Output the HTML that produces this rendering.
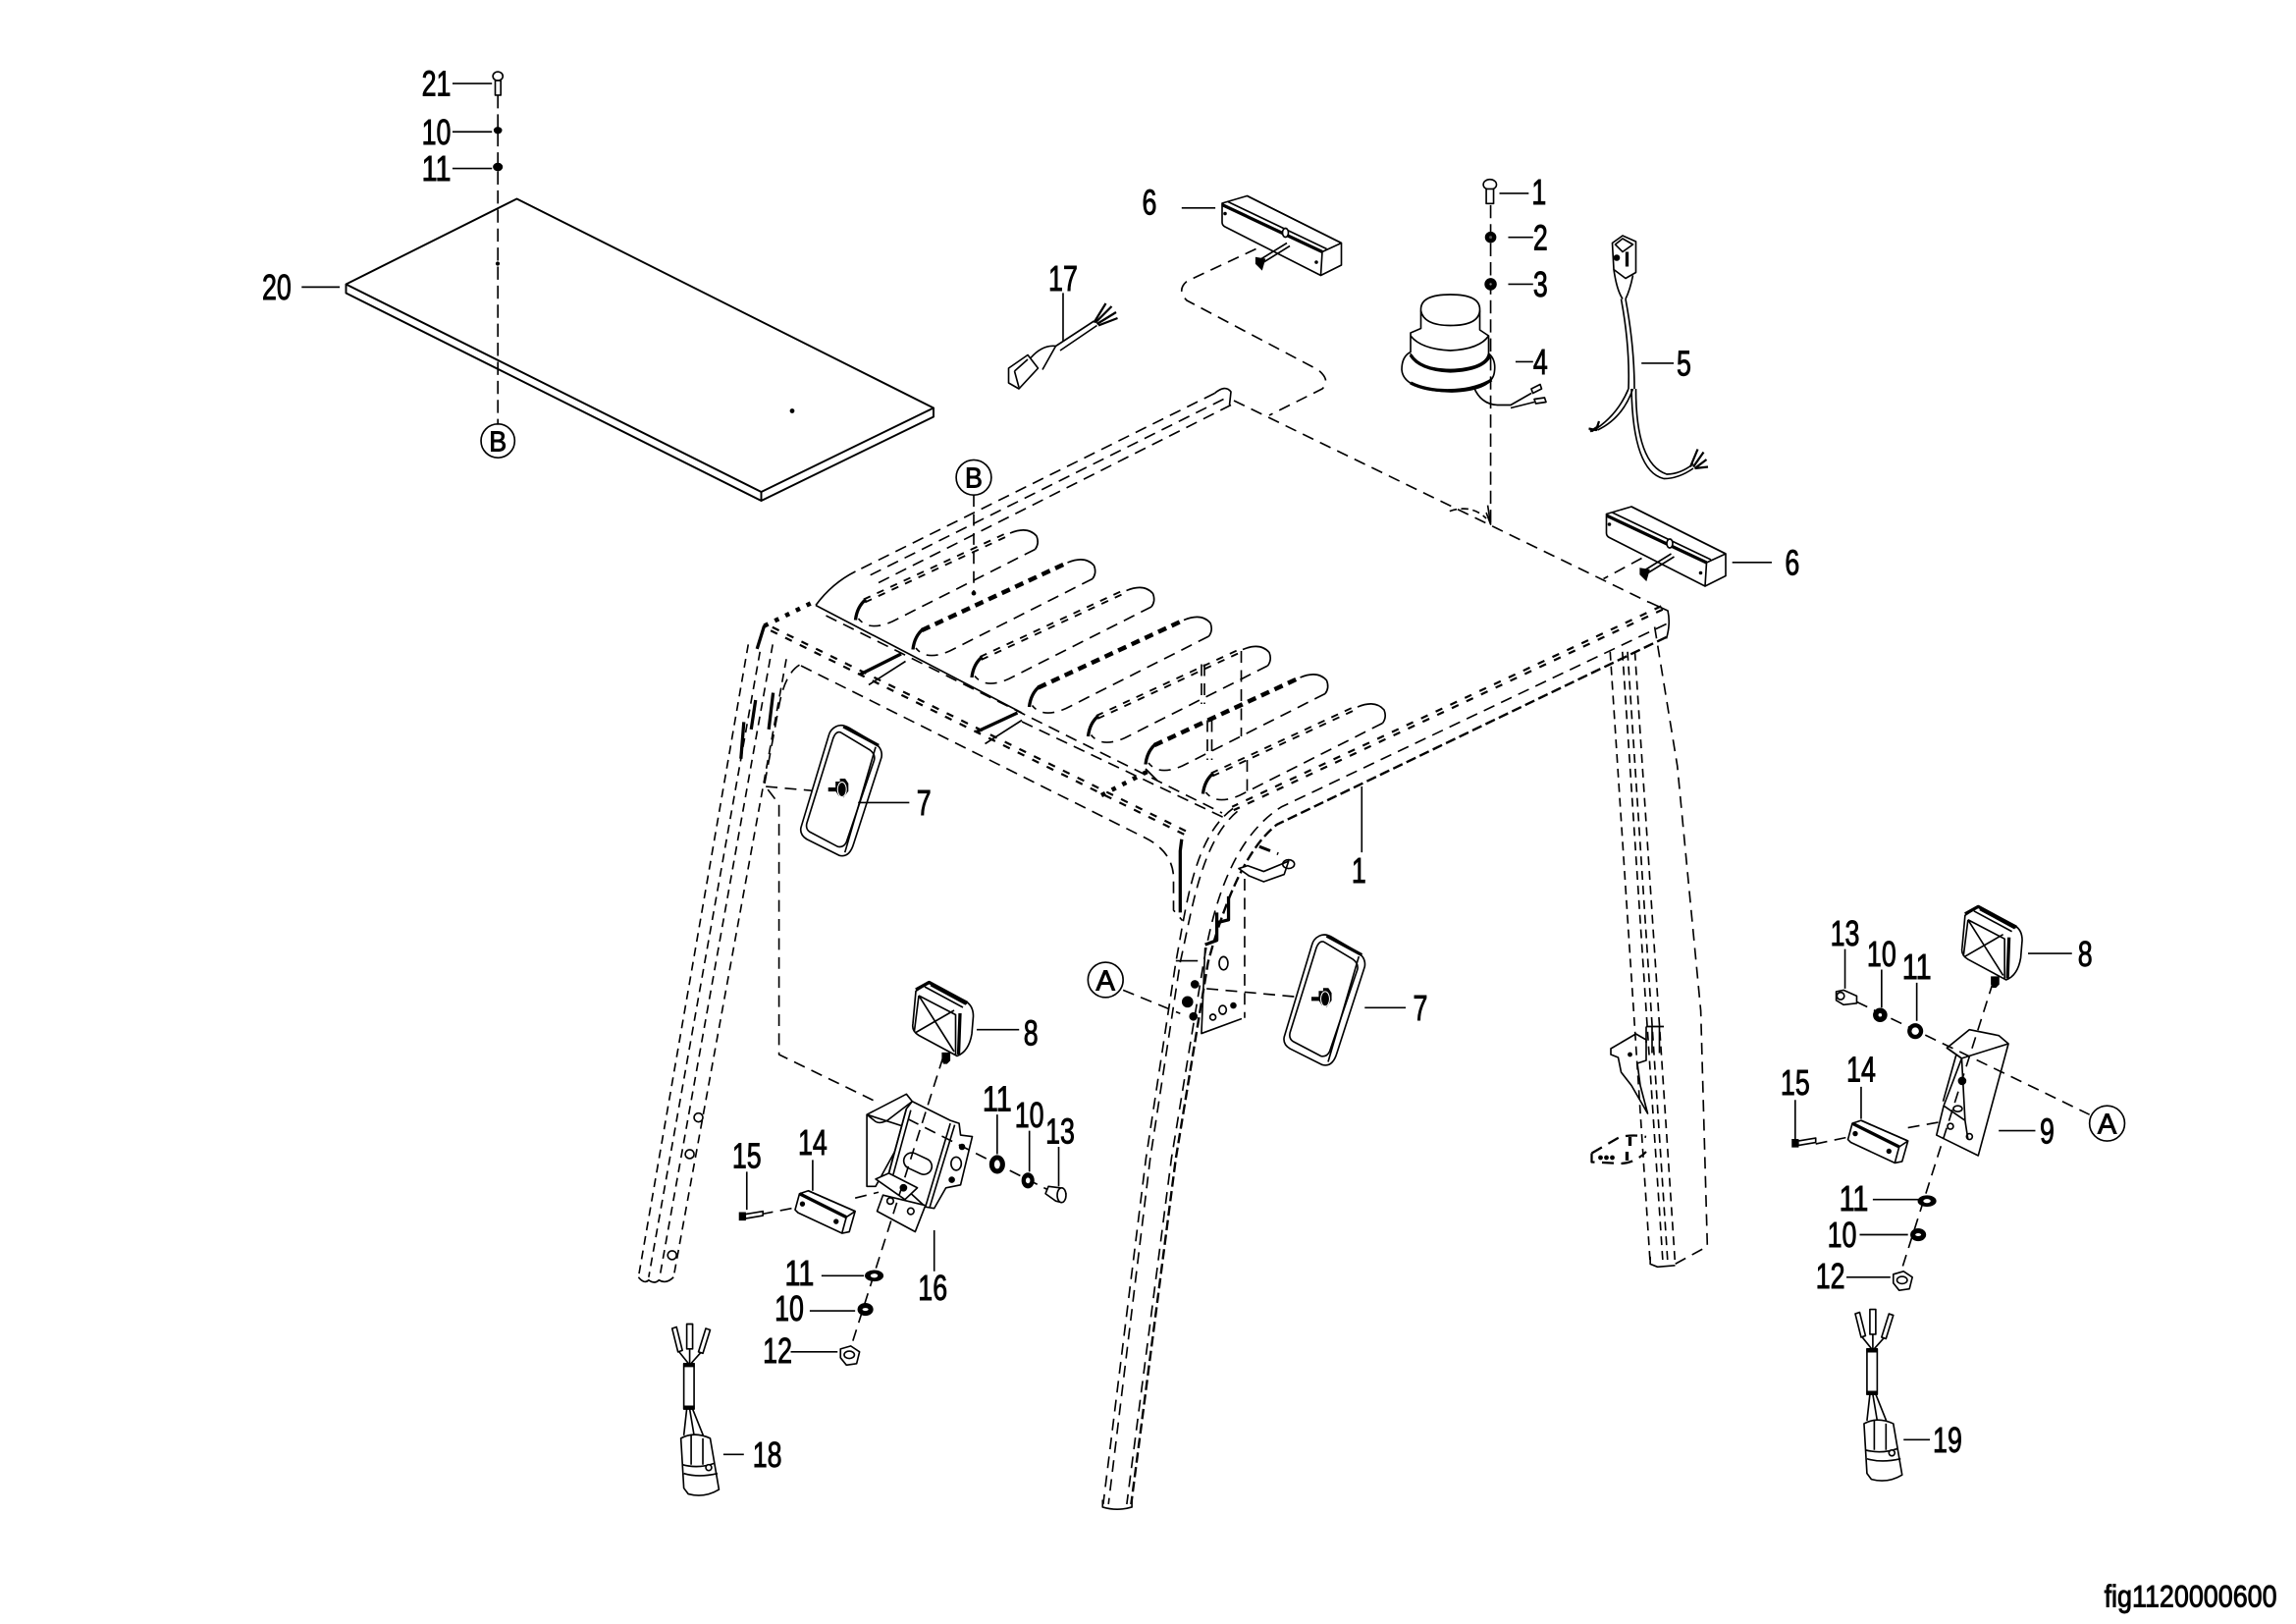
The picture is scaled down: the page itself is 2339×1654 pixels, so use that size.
<!DOCTYPE html>
<html><head><meta charset="utf-8"><style>
html,body{margin:0;padding:0;background:#fff}
svg{display:block}
.s,.d,.sd,.th,.sh{fill:none;stroke:#000;stroke-width:1.1;stroke-linejoin:round;stroke-linecap:butt}
.d{stroke-dasharray:8 5}
.sh{stroke-dasharray:6 4}
.th{stroke-width:2.2}
.w{fill:#fff;stroke:#000;stroke-width:1.1;stroke-linejoin:round}
.k{fill:#000;stroke:#000;stroke-width:.8}
.dd{fill:none;stroke:#000;stroke-width:4;stroke-dasharray:5 6}
.dw{fill:none;stroke:#fff;stroke-width:1.1}
text{font-family:"Liberation Sans",Arial,sans-serif;font-size:24px;fill:#000;stroke:#000;stroke-width:.6;text-anchor:middle}
</style></head><body>
<svg xmlns="http://www.w3.org/2000/svg" width="2339" height="1654" viewBox="0 0 1568 1108.8">
<rect width="1568" height="1109" fill="#fff"/>
<defs>
<g id="slotA">
 <path class="dd" style="stroke-width:3.400;stroke-dasharray:5 5" d="M587 408L686 362"/><path class="dw" style="stroke-width:.9" d="M587 408L686 362"/>
 <path class="th" d="M581 421Q582 412 588 407"/>
 <path class="s" d="M686 362Q698 357 704 364Q706 369 703 373"/>
 <path class="d" d="M703 373L606 422Q590 429 583 420"/>
</g>
<g id="slotB">
 <path class="dd" style="stroke-width:3;stroke-dasharray:6 4" d="M587 408L686 362"/>
 <path class="th" d="M581 421Q582 412 588 407"/>
 <path class="s" d="M686 362Q698 357 704 364Q706 369 703 373"/>
 <path class="d" d="M703 373L606 422Q590 429 583 420"/>
</g>
<g id="box6">
 <path class="w" d="M830 138L847 133L911 165L911 180L897 187L832 154Q830 153 830 151Z"/>
 <path class="th" d="M830 139L898 171"/>
 <path class="s" d="M847 133L911 165M898 171L911 165M898 171L897 187M834 137L901 169"/>
 <ellipse cx="873" cy="158" rx="2" ry="3" class="w"/>
 <path class="s" d="M874 165L853 178M876 167L855 180"/>
 <path class="k" d="M853 175l6 1l-2 7l-4-4z"/>
 <circle cx="832" cy="145" r=".8" class="k"/><circle cx="894" cy="178" r=".8" class="k"/>
</g>
<g id="mirror">
 <path class="w" d="M571 495Q575 493 580 496L597 506Q603 510 602 516L583 575Q580 585 573 583L551 572Q546 569 547 564L566 501Q567 497 571 495Z"/>
 <path class="s" d="M574 499L594 511Q598 514 597 518L578 574Q576 578 572 577L553 567Q550 565 551 561L569 503Q571 498 574 499Z"/>
 <path class="s" d="M598 509L577 581"/>
 <path class="th" d="M576 495L600 508"/>
 <path class="k" d="M566 537h5v-4h3v-2h3l2 3v5l-3 4l-3-1l-2-3h-5z"/>
 <ellipse cx="575" cy="538" rx="3" ry="5" fill="none" stroke="#fff" stroke-width=".7"/>
</g>
<g id="lamp">
 <path class="w" d="M622 673L631 667L656 680Q661 683 661 690L660 702Q658 714 650 717L624 703Q619 700 620 695Z"/>
 <path class="s" d="M624 676L649 689L649 716M624 676L621 700M624 676L648 714M622 701L648 686M628 670L654 684M632 669L656 682"/>
 <path class="th" d="M622 672L631 667L657 681M652 688L651 716"/>
 <path class="k" d="M640 715h5v5l-2 2h-2l-1-2z"/>
</g>
<g id="p14">
 <path class="w" d="M546 815L552 813L584 827L580 841L575 842L545 828L543 826Z"/>
 <path class="th" d="M546 815L578 831"/>
 <path class="s" d="M552 813L584 827M578 831L575 842M578 831L584 827"/>
 <circle cx="548" cy="822" r="1.400" class="k"/><circle cx="571" cy="834" r="1.400" class="k"/>
</g>
<g id="bolt15">
 <path class="k" d="M505 828h4v5h-4z"/>
 <path class="w" d="M509 829L521 827L521 830L509 832Z"/>
</g>
<g id="wl">
 <ellipse cx="597" cy="871" rx="6" ry="3.500" class="k"/><ellipse cx="597" cy="871" rx="2.500" ry="1.400" fill="#fff"/>
 <ellipse cx="591" cy="894" rx="5" ry="4" class="k"/><ellipse cx="591" cy="894" rx="2" ry="1" fill="#fff"/>
 <path class="w" d="M574 921L581 919L587 923L585 931L578 932L574 927Z"/>
 <ellipse cx="580" cy="925" rx="3.500" ry="2.500" class="s"/>
</g>
<g id="harness">
 <path class="s" d="M471 932L463 922M471 932L471 921M471 932L479 923"/>
 <path class="w" d="M459 907L462 906L466 922L463 923ZM469 904H473V921H469ZM482 907L485 908L480 924L477 923Z"/>
 <rect x="467" y="931" width="7" height="31" class="w"/>
 <path class="k" d="M467 931h7v2h-7zM467 960h7v2h-7z"/>
 <path class="s" d="M469 962L467 980M471 962L474 980M473 962L481 982"/>
 <path class="w" d="M465 982Q474 977 485 982L491 1017Q481 1023 470 1020L467 1016Z"/>
 <path class="s" d="M467 1006Q477 1009 490 1006M466 1000Q477 1003 488 999M472 980V1000M480 982V1000"/>
 <circle cx="484" cy="1002" r="2" class="w"/>
</g>
</defs>

<!-- ===== Group Z: geometry in 1/1.5 pixel frame ===== -->
<g transform="scale(1.00556)">
<path class="s" style="stroke-width:1.300" d="M351 135L235 193L517 334L634 277ZM235 193V199L517 340L634 283V277M517 334V340"/>
<circle cx="338" cy="179" r="1" class="k"/><circle cx="538" cy="279" r="1.200" class="k"/>

<use href="#box6"/><use href="#box6" x="261" y="211"/>
<path class="d" d="M853 169L806 191Q799 197 806 204L895 251Q904 258 898 264L862 282"/>
<path class="d" d="M1115 379L1089 393"/>

<!-- 17 -->
<path class="w" d="M685 250L698 241L705 250L692 264L685 260Z"/>
<path class="s" d="M689 252L692 263M689 252L698 244"/>
<path class="s" d="M700 243Q708 234 717 235L708 251M717 235L743 218M720 238L745 221"/>
<path class="s" style="stroke-width:1.500" d="M743 219L751 206M744 219L755 208M745 220L758 212M746 221L759 216"/>

<!-- beacon 4 -->
<path class="w" d="M952 251Q952 242 958 239V226L965 223V210Q965 200 985 200Q1005 200 1005 210V224L1011 228V240Q1016 244 1015 252Q1014 265 986 266Q953 265 952 251Z"/>
<path class="s" d="M965 211Q967 221 985 221Q1004 221 1005 211M958 228Q965 237 985 238Q1005 237 1011 228M958 240Q960 250 985 251Q1009 250 1011 240"/>
<path class="th" d="M958 241Q964 251 985 252Q1008 251 1012 241M958 260Q970 266 988 265Q1003 264 1013 258"/>
<path class="s" d="M1001 263Q1006 275 1018 275H1026L1040 267M1026 277L1042 273"/>
<path class="w" d="M1040 264l6-3l1 3l-6 3zM1042 271l7-1l1 3l-7 1z"/>

<!-- harness 5 -->
<path class="w" d="M1095 165L1102 160L1111 164V185L1104 189L1096 183Z"/>
<path class="s" d="M1097 166L1102 171L1109 166L1102 162ZM1096 183Q1098 197 1102 203M1109 187Q1107 197 1104 203"/>
<circle cx="1098" cy="175" r="1.800" class="k"/>
<path class="th" d="M1105 171V181"/>
<path class="s" d="M1101 203Q1107 235 1106 264M1104 203Q1110 235 1110 264M1106 264Q1098 283 1081 293M1109 264Q1102 284 1085 292M1108 264Q1109 320 1130 325Q1140 325 1150 318M1111 264Q1111 315 1132 322Q1141 322 1150 315"/>
<path class="s" style="stroke-width:1.500" d="M1079 291l5 1l2-6M1080 293l6-4M1148 317L1153 305M1150 317L1157 307M1151 318L1159 312M1151 318L1160 317"/>

<!-- top roof lines -->
<path class="d" d="M825 267L581 388"/>
<path class="d" d="M831 271L588 392"/>
<path class="d" d="M836 275L594 397"/>
<path class="s" d="M825 267Q832 261 836 266L835 275"/>
<path class="d" d="M838 272L1120 409"/>
<path class="s" d="M581 388Q565 396 554 411"/>
<use href="#slotA"/>
<use href="#slotB" x="39" y="20"/>
<use href="#slotA" x="79" y="39"/>
<use href="#slotB" x="118" y="59"/>
<use href="#slotA" x="158" y="79"/>
<use href="#slotB" x="197" y="98"/>
<use href="#slotA" x="236" y="118"/>

<!-- hidden verticals in slots -->
<path class="d" d="M843 442V500M847 516V539M816 451V478M818 451V478M820 489V516M823 489V516"/>

<!-- front beam -->
<path class="dd" d="M524 427L806 566"/><path class="dw" d="M524 427L806 566"/>
<path class="s" d="M554 411L694 484"/>
<path class="d" d="M561 418L830 552M694 490L833 556"/>
<path class="d" d="M544 452L778 569Q796 578 797 595V618L803 625"/>
<path class="th" d="M584 458L612 444"/>
<path class="s" d="M590 465L615 449"/>
<path class="th" d="M663 497L691 484"/>
<path class="s" d="M669 505L694 489"/>
<path class="dd" style="stroke-width:3;stroke-dasharray:3 5" d="M519 425L554 408"/>
<path class="dd" style="stroke-width:3;stroke-dasharray:3 5" d="M748 540L783 522"/>
<path class="s" d="M778 522L786 530"/>

<use href="#lamp"/>

<!-- small rear bracket -->
<path class="w" d="M1094 712L1111 702L1118 706V720L1112 722L1114 737L1119 756L1108 737L1101 728L1099 718L1094 716Z"/>
<circle cx="1107" cy="716" r="1.200" class="k"/>
<path class="s" d="M1118 697V708M1122 697V715M1127 697V715M1118 697H1130"/>
<path class="d" d="M1081 783L1100 772Q1110 770 1118 772" style="stroke-width:1.500"/>
<path class="d" d="M1081 783V789L1100 790Q1110 790 1118 782" style="stroke-width:1.500"/>
<path class="th" d="M1107 772V778M1105 782V788"/>
<circle cx="1087" cy="786" r="1.200" class="k"/><circle cx="1091" cy="786" r="1.200" class="k"/><circle cx="1095" cy="786" r="1.200" class="k"/>
</g>

<!-- ===== Group F: direct frame coordinates ===== -->
<!-- panel hardware -->
<path class="d" d="M340 65V290" style="stroke-dasharray:9 4"/>
<circle cx="340" cy="301" r="11.500" class="s"/>
<path class="s" d="M309 57H336M309 90H336M309 115H336M206 196H232"/>
<ellipse cx="340" cy="52" rx="3.400" ry="3" class="w"/><rect x="338.200" y="55" width="3.800" height="10" class="w"/>
<ellipse cx="340" cy="89" rx="2.500" ry="2" class="k"/><ellipse cx="340" cy="114" rx="3" ry="2.500" class="k"/>

<!-- part 6 / 4 / 5 / 17 leaders -->
<path class="s" d="M807 142H830M1183 384H1210M726 200V233M1035 247H1047M1030 194H1047M1030 162H1047M1024 132H1044M1121 248H1143"/>
<path class="d" d="M1018 140V358" style="stroke-dasharray:9 4"/>
<ellipse cx="1017.500" cy="126" rx="4.500" ry="3.500" class="w"/><rect x="1015" y="129" width="5" height="10" class="w"/>
<circle cx="1018" cy="162" r="3.500" class="k"/><circle cx="1018" cy="162" r="1" fill="#555"/>
<circle cx="1018" cy="194" r="3.800" class="k"/><circle cx="1018" cy="194" r=".8" fill="#888"/>
<path class="d" d="M990 349Q1005 344 1015 354" style="stroke-dasharray:5 3"/>
<path class="s" d="M1016 345L1018 358L1015 350"/>

<path class="d" d="M665 338V405"/>
<circle cx="665" cy="405" r="1.200" class="k"/>
<circle cx="665" cy="326" r="12" class="s"/>

<!-- right beam + curves + front right leg -->
<path class="dd" d="M1135 415L842 552"/><path class="dw" d="M1135 415L842 552"/>
<path class="d" d="M842 552C815 572 810 620 803 657L782.600 791L753.400 1027"/>
<path class="d" d="M845 554C820 575 814 622 806 657L785.500 791L757 1027"/>
<path class="d" d="M1138 426L875 551C845 570 830 610 822 657L800 791L769.500 1027"/>
<path class="d" style="stroke-width:1.600;stroke-dasharray:7 3" d="M1138 435L872 563C850 580 835 620 825 657L803 791L772.500 1027"/>
<path class="s" d="M1126 411L1139 417Q1141 426 1138 436"/>
<path class="s" d="M930 537V582"/>
<path class="s" d="M753 1024V1029Q763 1032 773 1029V1023"/>
<path class="s" d="M803 656H818"/>
<path class="th" d="M831 623V642L823 645M839 612V628L831 630M807 573L806 581V623"/>

<!-- plate and upper bracket -->
<path class="s" d="M823 647L820.500 705.600L848 695.500"/>
<path class="d" d="M850 600V695"/>
<ellipse cx="835.600" cy="657.700" rx="3" ry="4.500" class="s"/>
<circle cx="828.300" cy="694.500" r="2" class="s"/><ellipse cx="835" cy="689.500" rx="2.500" ry="3" class="s"/><circle cx="842.300" cy="686.500" r="1.800" class="k"/>
<circle cx="811" cy="684" r="3.500" class="k"/><circle cx="816" cy="672" r="2.500" class="k"/><circle cx="815" cy="694" r="2.500" class="k"/>
<path class="w" d="M846 593L852 591L863 595L880 588L877 597L863 602L853 598Z"/>
<path class="d" d="M860 578L873 583" style="stroke-width:2"/>
<ellipse cx="880" cy="590" rx="4" ry="3" class="s"/>
<path class="d" d="M767 676L806 692"/>
<circle cx="755" cy="669" r="12" class="s"/>
<path class="d" d="M824 675L890 681"/>
<use href="#mirror" x="330" y="144"/>
<path class="s" d="M932 688H960"/>

<!-- left front leg -->
<path class="sh" d="M511 440L436 872"/>
<path class="sh" d="M519 445L443 872"/>
<path class="sh" d="M527.700 440L450.500 872"/>
<path class="sh" d="M537 450L460 872"/>
<path class="s" d="M436 872Q440 877 443 874Q447 877 450 874Q455 877 460 872"/>
<path class="th" d="M522 427L517 443M516 478L513 498M508 493L506 518M528 473L525 498"/>
<path class="d" d="M546 454Q536 460 532 482L522 536L532 549V720L600 753"/>
<circle cx="459" cy="857" r="3" class="s"/><circle cx="471" cy="788" r="3" class="s"/><circle cx="477" cy="763" r="3" class="s"/>
<path class="d" d="M523 537L568 541"/>
<use href="#mirror" y="1"/>
<path class="s" d="M586 548H621"/>

<!-- right rear leg -->
<path class="sh" d="M1099.600 445L1127 863"/>
<path class="sh" d="M1108 445L1135.700 863"/>
<path class="sh" d="M1111.500 445L1139 863"/>
<path class="sh" d="M1116.500 445L1144 863"/>
<path class="d" d="M1130 428L1145.500 523L1161.500 690L1166 851L1144 863"/>
<path class="s" d="M1127 858V863L1132 865L1144 864"/>

<!-- LEFT ASSEMBLY -->
<path class="s" d="M667 703H696"/>
<path class="w" d="M592 761L619 747L623 752L606 765Q600 768 597 765L592 761V810H598L620 770Z"/>
<path class="w" d="M623 752L649 765L655 767L656 775L664 776L656 809L646 811L638 825L632 824L607 801L619 757Z"/>
<path class="s" d="M649 767L632 824M652 768L635 824M619 757L607 801M622 758L610 802"/>
<path class="w" d="M603 816L599 827L625 841L632 823Z"/>
<path class="w" d="M598 805L607 801L626.500 811L618 819Z"/>
<rect x="617" y="789" width="20" height="11" rx="5.500" transform="rotate(25 627 794)" class="w"/>
<circle cx="608" cy="820" r="2.200" class="s"/><circle cx="622" cy="827" r="2.200" class="s"/><circle cx="617" cy="811" r="2.200" class="k"/>
<circle cx="657" cy="783" r="1.800" class="k"/><ellipse cx="653" cy="794.500" rx="3.500" ry="4.500" class="s"/><circle cx="650" cy="805.500" r="1.800" class="k"/>
<path class="d" d="M644 722L581 920"/>
<path class="d" d="M620 764L721 815"/>
<path class="d" d="M520 829L546 824M584 818L600 814"/>
<use href="#p14"/><use href="#bolt15"/><use href="#wl"/>
<ellipse cx="681" cy="795" rx="5" ry="6" class="k"/><ellipse cx="681" cy="795" rx="2" ry="3" fill="#fff"/>
<ellipse cx="702" cy="806" rx="4" ry="5" class="k"/><ellipse cx="702" cy="806" rx="1.500" ry="2" fill="#fff"/>
<path class="w" d="M716 810L724 811L728 815L725 821L721 820L714 815Z"/><ellipse cx="725" cy="816" rx="3" ry="5" class="w"/>
<path class="s" d="M681 761V788M703 772V800M723 783V810M510 800V826M555 792V813M638 840V868M561 871H590M553 895H584M540 923H572"/>
<use href="#harness"/>
<path class="s" d="M494 993H508"/>

<!-- RIGHT ASSEMBLY -->
<use href="#lamp" x="720" y="-48"/>
<path class="s" d="M1385 651H1415"/>
<path class="w" d="M1329.600 715.500L1345 703L1365 707L1371.600 712.600L1351 789L1322.500 775L1327.400 755L1339.700 722.600Z"/>
<path class="s" d="M1329.600 715.500L1339.700 722.600L1371.600 712.600M1339.700 722.600L1342 765L1344 778M1327.400 755L1342 765M1336 720L1327 752"/>
<circle cx="1332" cy="769" r="2" class="s"/><circle cx="1345" cy="776" r="2" class="s"/><ellipse cx="1337" cy="757" rx="3" ry="2" class="s"/><circle cx="1340" cy="738" r="2.500" class="k"/>
<path class="d" d="M1361 671L1298 869"/>
<path class="d" d="M1268 684L1427 761"/>
<circle cx="1439" cy="767" r="12" class="s"/>
<path class="s" d="M1365 772H1390"/>
<path class="d" d="M1240 781L1264 776M1303 770L1325 766"/>
<use href="#p14" x="719" y="-48"/><use href="#bolt15" x="719" y="-50"/>
<use href="#wl" x="719" y="-51"/>
<path class="w" d="M1254 677L1259 676L1268 680L1268 685L1259 686L1254 683Z"/><circle cx="1257" cy="680" r="2.500" class="s"/>
<ellipse cx="1284" cy="693" rx="4.500" ry="4.500" class="k"/><circle cx="1284" cy="693" r="1.200" fill="#fff"/>
<ellipse cx="1308" cy="704" rx="5" ry="5" class="k"/><ellipse cx="1308" cy="704" rx="2.500" ry="2.500" fill="#fff"/>
<path class="s" d="M1260 648V675M1285 662V688M1309 671V697M1226 751V778M1271 742V764M1279 819H1310M1270 843H1303M1261 872H1291"/>
<use href="#harness" x="808" y="-10"/>
<path class="s" d="M1300 983H1318"/>

<!-- labels -->
<text x="298" y="65.500" textLength="20" lengthAdjust="spacingAndGlyphs">21</text>
<text x="298" y="98.500" textLength="20" lengthAdjust="spacingAndGlyphs">10</text>
<text x="298" y="123.500" textLength="20" lengthAdjust="spacingAndGlyphs">11</text>
<text x="189" y="204.500" textLength="20" lengthAdjust="spacingAndGlyphs">20</text>
<text x="785" y="146.500" textLength="10" lengthAdjust="spacingAndGlyphs">6</text>
<text x="726" y="198.500" textLength="20" lengthAdjust="spacingAndGlyphs">17</text>
<text x="1051" y="139.500" textLength="10" lengthAdjust="spacingAndGlyphs">1</text>
<text x="1052" y="170.500" textLength="10" lengthAdjust="spacingAndGlyphs">2</text>
<text x="1052" y="202.500" textLength="10" lengthAdjust="spacingAndGlyphs">3</text>
<text x="1052" y="255.500" textLength="10" lengthAdjust="spacingAndGlyphs">4</text>
<text x="1150" y="256.500" textLength="10" lengthAdjust="spacingAndGlyphs">5</text>
<text x="1224" y="392.500" textLength="10" lengthAdjust="spacingAndGlyphs">6</text>
<text x="340" y="308" textLength="12" lengthAdjust="spacingAndGlyphs" style="font-size:19px">B</text>
<text x="665" y="333" textLength="12" lengthAdjust="spacingAndGlyphs" style="font-size:19px">B</text>
<text x="755" y="676" textLength="13" lengthAdjust="spacingAndGlyphs" style="font-size:19px">A</text>
<text x="1439" y="774" textLength="13" lengthAdjust="spacingAndGlyphs" style="font-size:19px">A</text>
<text x="631" y="556.500" textLength="10" lengthAdjust="spacingAndGlyphs">7</text>
<text x="928" y="602.500" textLength="10" lengthAdjust="spacingAndGlyphs">1</text>
<text x="970" y="696.500" textLength="10" lengthAdjust="spacingAndGlyphs">7</text>
<text x="704" y="713.500" textLength="10" lengthAdjust="spacingAndGlyphs">8</text>
<text x="637" y="887.500" textLength="20" lengthAdjust="spacingAndGlyphs">16</text>
<text x="681" y="758.500" textLength="20" lengthAdjust="spacingAndGlyphs">11</text>
<text x="703" y="769.500" textLength="20" lengthAdjust="spacingAndGlyphs">10</text>
<text x="724" y="780.500" textLength="20" lengthAdjust="spacingAndGlyphs">13</text>
<text x="510" y="797.500" textLength="20" lengthAdjust="spacingAndGlyphs">15</text>
<text x="555" y="788.500" textLength="20" lengthAdjust="spacingAndGlyphs">14</text>
<text x="546" y="877.500" textLength="20" lengthAdjust="spacingAndGlyphs">11</text>
<text x="539" y="901.500" textLength="20" lengthAdjust="spacingAndGlyphs">10</text>
<text x="531" y="930.500" textLength="20" lengthAdjust="spacingAndGlyphs">12</text>
<text x="524" y="1001.500" textLength="20" lengthAdjust="spacingAndGlyphs">18</text>
<text x="1260" y="645.500" textLength="20" lengthAdjust="spacingAndGlyphs">13</text>
<text x="1285" y="659.500" textLength="20" lengthAdjust="spacingAndGlyphs">10</text>
<text x="1309" y="668.500" textLength="20" lengthAdjust="spacingAndGlyphs">11</text>
<text x="1424" y="659.500" textLength="10" lengthAdjust="spacingAndGlyphs">8</text>
<text x="1226" y="747.500" textLength="20" lengthAdjust="spacingAndGlyphs">15</text>
<text x="1271" y="738.500" textLength="20" lengthAdjust="spacingAndGlyphs">14</text>
<text x="1398" y="780.500" textLength="10" lengthAdjust="spacingAndGlyphs">9</text>
<text x="1266" y="826.500" textLength="20" lengthAdjust="spacingAndGlyphs">11</text>
<text x="1258" y="851.500" textLength="20" lengthAdjust="spacingAndGlyphs">10</text>
<text x="1250" y="879.500" textLength="20" lengthAdjust="spacingAndGlyphs">12</text>
<text x="1330" y="991.500" textLength="20" lengthAdjust="spacingAndGlyphs">19</text>
<text x="1437" y="1097" textLength="118" lengthAdjust="spacingAndGlyphs" style="text-anchor:start;font-size:21px">fig1120000600</text>
</svg>
</body></html>
